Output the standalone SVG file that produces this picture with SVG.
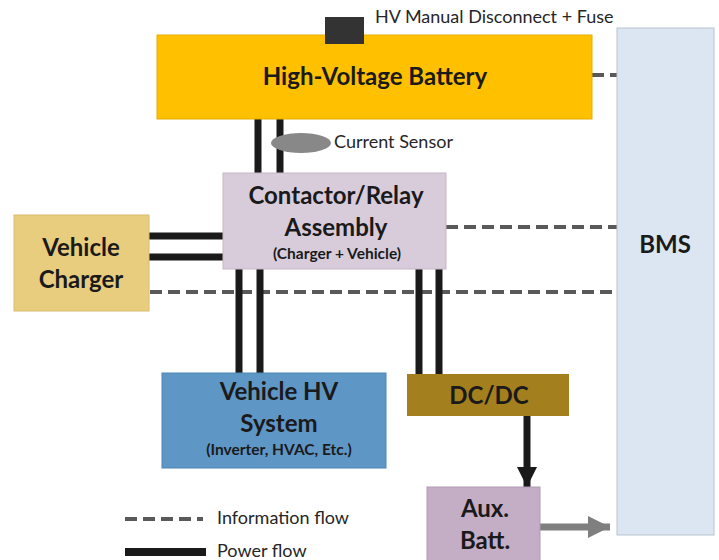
<svg xmlns="http://www.w3.org/2000/svg" width="719" height="560" viewBox="0 0 719 560">
<style>
.t{font-family:Lato,"Open Sans","Liberation Sans",sans-serif;font-weight:bold;fill:#1a1a1a;text-anchor:middle}
.big{font-size:24px}
.sm{font-size:15.5px}
.lbl{font-family:Lato,"Open Sans","Liberation Sans",sans-serif;font-size:18px;fill:#262626}
.info{stroke:#595959;stroke-width:4;stroke-dasharray:12,6;fill:none}
.pwr{stroke:#1a1a1a;stroke-width:7;fill:none}
</style>
<defs>
<marker id="ah" markerUnits="userSpaceOnUse" markerWidth="22" markerHeight="22" refX="20" refY="11" orient="auto" viewBox="0 0 22 22"><path d="M0,1 L20,11 L0,21 Z" fill="#1a1a1a"/></marker>
<marker id="ag" markerUnits="userSpaceOnUse" markerWidth="24" markerHeight="22" refX="22" refY="11" orient="auto" viewBox="0 0 24 22"><path d="M0,0 L22,11 L0,22 Z" fill="#7f7f7f"/></marker>
</defs>
<g id="connectors">
<line class="info" x1="592" y1="75" x2="617" y2="75"/>
<line class="info" x1="446" y1="227" x2="617" y2="227"/>
<line class="info" x1="150" y1="292" x2="617" y2="292"/>
<line class="pwr" x1="258" y1="119" x2="258" y2="173"/>
<line class="pwr" x1="280" y1="119" x2="280" y2="173"/>
<line class="pwr" x1="149" y1="236" x2="223" y2="236"/>
<line class="pwr" x1="149" y1="257" x2="223" y2="257"/>
<line class="pwr" x1="239" y1="269" x2="239" y2="373"/>
<line class="pwr" x1="260" y1="269" x2="260" y2="373"/>
<line class="pwr" x1="419" y1="269" x2="419" y2="374"/>
<line class="pwr" x1="439" y1="269" x2="439" y2="374"/>
<line class="pwr" x1="527" y1="416" x2="527" y2="487" marker-end="url(#ah)"/>
<line x1="540" y1="527" x2="610" y2="527" stroke="#7f7f7f" stroke-width="7" marker-end="url(#ag)"/>
</g>
<g id="bms"><rect x="617" y="28" width="97" height="507" fill="#dce6f2" stroke="#b9c3cf" stroke-width="1"/><text class="t big" x="665" y="253">BMS</text></g>
<g id="battery"><rect x="157" y="35" width="435" height="84" fill="#ffc000" stroke="#e6ad00" stroke-width="1"/><text class="t big" x="375" y="85">High-Voltage Battery</text></g>
<g id="disconnect"><rect x="325" y="17" width="39" height="27" fill="#333333"/><text class="lbl" x="375" y="23">HV Manual Disconnect + Fuse</text></g>
<g id="sensor"><ellipse cx="301" cy="143" rx="30" ry="10" fill="#888888"/><text class="lbl" x="334" y="148">Current Sensor</text></g>
<g id="contactor"><rect x="223" y="173" width="223" height="96" fill="#d9ccda" stroke="#c5b8c6" stroke-width="1"/><text class="t big" x="336" y="204">Contactor/Relay</text><text class="t big" x="336" y="236">Assembly</text><text class="t sm" x="337" y="259">(Charger + Vehicle)</text></g>
<g id="charger"><rect x="14" y="215" width="135" height="96" fill="#e9cd7e" stroke="#d8bc6c" stroke-width="1"/><text class="t big" x="81" y="256">Vehicle</text><text class="t big" x="81" y="288">Charger</text></g>
<g id="hv"><rect x="162" y="373" width="224" height="95" fill="#5e96c6" stroke="#4f86b5" stroke-width="1"/><text class="t big" x="279" y="400">Vehicle HV</text><text class="t big" x="279" y="432">System</text><text class="t sm" x="279" y="455">(Inverter, HVAC, Etc.)</text></g>
<g id="dcdc"><rect x="407" y="374" width="162" height="42" fill="#a47f1e"/><text class="t big" x="489" y="404">DC/DC</text></g>
<g id="aux"><rect x="427" y="487" width="113" height="80" fill="#c4aec6" stroke="#b09ab2" stroke-width="1"/><text class="t big" x="485" y="517">Aux.</text><text class="t big" x="485" y="549">Batt.</text></g>
<g id="legend">
<line class="info" x1="125" y1="519" x2="203" y2="519"/>
<text class="lbl" x="217" y="524">Information flow</text>
<line x1="125" y1="552" x2="206" y2="552" stroke="#1a1a1a" stroke-width="8"/>
<text class="lbl" x="217" y="557">Power flow</text>
</g>
</svg>
